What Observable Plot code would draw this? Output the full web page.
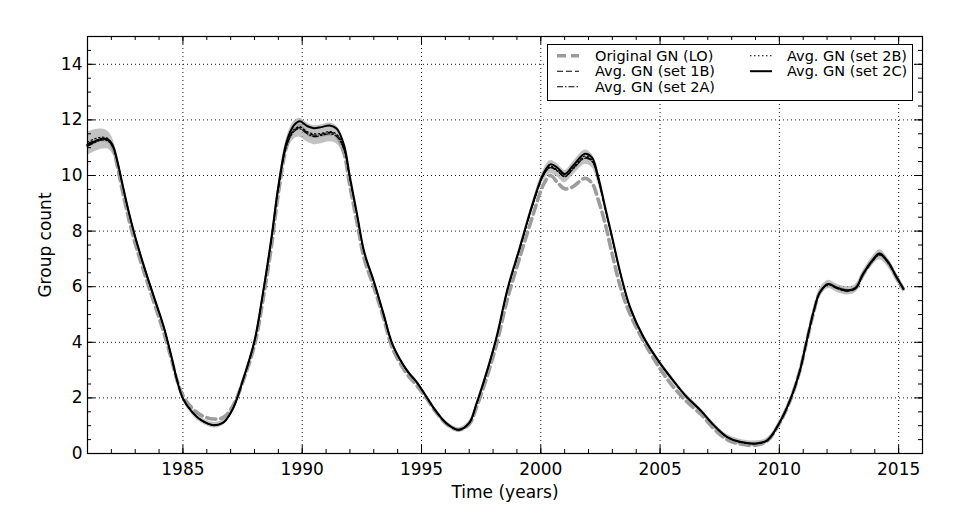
<!DOCTYPE html>
<html><head><meta charset="utf-8">
<script src="https://cdn.jsdelivr.net/npm/d3@7"></script>
<script src="https://cdn.jsdelivr.net/npm/@observablehq/plot@0.6"></script>
<style>
body{margin:0;background:#fff;font-family:"DejaVu Sans",sans-serif;}
#wrap{position:relative;width:957px;height:522px;}
#legend{position:absolute;left:547px;top:44px;width:366px;height:57px;border:1px solid #000;background:#fff;box-sizing:border-box;}
#legend text{font-family:"DejaVu Sans",sans-serif;font-size:14.5px;fill:#000;}
</style></head><body><div id="wrap"></div>
<script>
const years = [
1981.0,1981.3,1981.6,1981.85,1982.05,1982.25,1982.45,1982.7,1983.0,1983.4,
1983.8,1984.2,1984.5,1984.75,1985.0,1985.4,1985.8,1986.3,1986.7,1987.1,
1987.5,1988.0,1988.35,1988.7,1989.0,1989.35,1989.65,1989.9,1990.2,1990.5,
1990.8,1991.15,1991.45,1991.75,1992.0,1992.3,1992.6,1993.0,1993.4,1993.8,
1994.4,1994.8,1995.2,1995.6,1996.05,1996.55,1997.0,1997.3,1997.75,1998.15,
1998.6,1999.1,1999.7,2000.1,2000.4,2000.7,2001.0,2001.35,2001.85,2002.15,
2002.4,2002.7,2003.0,2003.35,2003.75,2004.3,2005.0,2005.55,2006.1,2006.7,
2007.25,2007.8,2008.35,2009.0,2009.5,2010.0,2010.45,2010.85,2011.15,2011.45,
2011.7,2012.05,2012.4,2012.85,2013.2,2013.5,2013.9,2014.2,2014.55,2014.9,
2015.2];

const origLO = [
11.08,11.22,11.30,11.26,11.02,10.35,9.50,8.55,7.55,6.45,
5.40,4.35,3.45,2.65,2.08,1.62,1.36,1.24,1.30,1.72,
2.55,3.90,5.50,7.40,9.35,11.05,11.66,11.78,11.52,11.42,
11.45,11.50,11.40,10.80,9.62,8.30,7.00,6.00,4.90,3.75,
2.85,2.45,2.00,1.50,1.06,0.85,1.05,1.65,2.78,3.95,
5.55,7.00,8.65,9.65,10.00,9.75,9.52,9.60,9.90,9.72,
9.15,8.26,7.15,5.95,5.00,4.05,3.05,2.40,1.88,1.42,
0.90,0.50,0.34,0.30,0.46,1.08,1.90,2.95,4.05,5.13,
5.80,6.08,5.96,5.86,5.95,6.42,6.93,7.17,6.88,6.35,
5.92];

const set1B = [
11.14,11.25,11.31,11.27,11.06,10.50,9.73,8.78,7.78,6.63,
5.58,4.54,3.55,2.65,1.98,1.48,1.18,1.02,1.12,1.62,
2.60,4.04,5.73,7.64,9.52,11.10,11.62,11.72,11.55,11.45,
11.48,11.55,11.45,10.96,9.88,8.57,7.23,6.18,5.04,3.89,
2.97,2.56,2.05,1.53,1.08,0.85,1.10,1.77,2.96,4.18,
5.87,7.31,9.04,9.98,10.30,10.18,9.96,10.25,10.66,10.52,
9.88,8.80,7.71,6.42,5.23,4.19,3.24,2.62,2.04,1.54,
1.01,0.59,0.41,0.35,0.47,1.09,1.91,2.94,4.06,5.14,
5.79,6.08,5.95,5.85,5.94,6.42,6.92,7.15,6.87,6.35,
5.92];

const set2A = [
11.05,11.18,11.27,11.25,11.03,10.48,9.72,8.77,7.77,6.62,
5.58,4.53,3.54,2.64,1.98,1.48,1.18,1.02,1.12,1.61,
2.59,4.03,5.72,7.62,9.50,11.07,11.58,11.68,11.50,11.40,
11.44,11.50,11.40,10.92,9.86,8.56,7.22,6.17,5.03,3.88,
2.96,2.56,2.04,1.53,1.08,0.85,1.09,1.76,2.95,4.17,
5.86,7.30,9.02,9.98,10.28,10.15,9.95,10.22,10.62,10.50,
9.86,8.79,7.70,6.41,5.22,4.18,3.23,2.61,2.04,1.54,
1.01,0.59,0.41,0.35,0.47,1.09,1.91,2.94,4.06,5.14,
5.79,6.07,5.94,5.84,5.93,6.41,6.91,7.14,6.86,6.34,
5.91];

const set2B = [
11.20,11.32,11.38,11.33,11.08,10.51,9.74,8.79,7.79,6.64,
5.59,4.54,3.55,2.65,1.98,1.48,1.18,1.02,1.12,1.62,
2.60,4.04,5.74,7.66,9.55,11.13,11.65,11.75,11.58,11.50,
11.52,11.58,11.48,11.00,9.90,8.58,7.24,6.19,5.04,3.89,
2.97,2.57,2.05,1.53,1.08,0.85,1.10,1.77,2.97,4.19,
5.88,7.33,9.06,10.00,10.33,10.20,9.98,10.28,10.70,10.56,
9.92,8.82,7.73,6.43,5.24,4.19,3.24,2.62,2.04,1.55,
1.02,0.60,0.42,0.36,0.48,1.10,1.92,2.95,4.07,5.15,
5.80,6.09,5.96,5.86,5.95,6.44,6.94,7.18,6.89,6.36,
5.93];

const set2C = [
11.10,11.22,11.32,11.30,11.10,10.52,9.75,8.80,7.80,6.65,
5.60,4.55,3.55,2.65,1.98,1.48,1.18,1.02,1.12,1.62,
2.60,4.05,5.75,7.70,9.62,11.22,11.80,11.95,11.78,11.70,
11.74,11.80,11.68,11.10,9.95,8.60,7.25,6.20,5.05,3.90,
2.98,2.57,2.05,1.53,1.08,0.85,1.10,1.78,2.98,4.20,
5.90,7.35,9.10,10.05,10.40,10.28,10.05,10.35,10.78,10.64,
9.98,8.86,7.75,6.45,5.25,4.20,3.25,2.63,2.05,1.55,
1.02,0.60,0.42,0.36,0.48,1.10,1.92,2.95,4.07,5.15,
5.80,6.10,5.97,5.87,5.96,6.45,6.95,7.19,6.90,6.37,
5.93];

// half-width of the grey uncertainty band (centred on set 1B)
const bandHalf = [
0.42,0.40,0.36,0.32,0.28,0.25,0.22,0.20,0.16,0.15,
0.14,0.13,0.12,0.11,0.10,0.10,0.10,0.10,0.10,0.10,
0.10,0.10,0.12,0.15,0.20,0.26,0.32,0.34,0.34,0.34,
0.34,0.34,0.32,0.24,0.16,0.12,0.12,0.10,0.10,0.10,
0.08,0.08,0.08,0.08,0.08,0.08,0.08,0.08,0.08,0.10,
0.10,0.12,0.15,0.20,0.24,0.24,0.22,0.24,0.26,0.24,
0.18,0.12,0.10,0.10,0.10,0.10,0.10,0.10,0.10,0.10,
0.10,0.10,0.10,0.10,0.10,0.10,0.10,0.10,0.12,0.12,
0.14,0.15,0.15,0.15,0.15,0.15,0.16,0.18,0.16,0.15,
0.15];

const xMajor = [1985, 1990, 1995, 2000, 2005, 2010, 2015];
const xMinor = d3.range(1982, 2016, 1);
const yMajor = [0, 2, 4, 6, 8, 10, 12, 14];
const yMinor = d3.range(0.5, 15, 0.5);

const seriesNames = ["Original GN (LO)", "Avg. GN (set 1B)", "Avg. GN (set 2A)", "Avg. GN (set 2B)", "Avg. GN (set 2C)"];
const seriesValues = [origLO, set1B, set2A, set2B, set2C];
const seriesStyle = [
  {stroke: "#9c9c9c", strokeWidth: 3.6, strokeDasharray: "9,5"},
  {stroke: "#000", strokeWidth: 1.1, strokeDasharray: "6,3"},
  {stroke: "#000", strokeWidth: 1.1, strokeDasharray: "6,2,1.5,2"},
  {stroke: "#000", strokeWidth: 1.1, strokeDasharray: "1.5,2.5"},
  {stroke: "#000", strokeWidth: 2}
];

const band = years.map((t, i) => ({t, lo: set1B[i] - bandHalf[i], hi: set1B[i] + bandHalf[i]}));

const W = 957, H = 522, mL = 87, mR = 35, mT = 36, mB = 69;
const pw = W - mL - mR, ph = H - mT - mB;

const lineMarks = seriesValues.map((vals, k) =>
  Plot.line(years.map((t, i) => ({t, v: vals[i]})), {x: "t", y: "v", curve: "catmull-rom", ...seriesStyle[k]})
);

const chart = Plot.plot({
  width: W, height: H,
  marginLeft: mL, marginRight: mR, marginTop: mT, marginBottom: mB,
  style: {fontFamily: "DejaVu Sans, sans-serif", fontSize: "17px", background: "#fff", color: "#000"},
  x: {domain: [1981, 2016], axis: null},
  y: {domain: [0, 15], axis: null},
  marks: [
    Plot.gridX(xMajor, {stroke: "#000", strokeOpacity: 0.9, strokeDasharray: "1,3"}),
    Plot.gridY(yMajor, {stroke: "#000", strokeOpacity: 0.9, strokeDasharray: "1,3"}),
    Plot.areaY(band, {x: "t", y1: "lo", y2: "hi", curve: "catmull-rom", fill: "#a8a8a8", fillOpacity: 0.7}),
    ...lineMarks,
    // inward ticks on all four sides
    Plot.tickX(xMajor, {x: d => d, insetTop: ph - 8, stroke: "#000"}),
    Plot.tickX(xMajor, {x: d => d, insetBottom: ph - 8, stroke: "#000"}),
    Plot.tickX(xMinor, {x: d => d, insetTop: ph - 4, stroke: "#000"}),
    Plot.tickX(xMinor, {x: d => d, insetBottom: ph - 4, stroke: "#000"}),
    Plot.tickY(yMajor, {y: d => d, insetRight: pw - 8, stroke: "#000"}),
    Plot.tickY(yMajor, {y: d => d, insetLeft: pw - 8, stroke: "#000"}),
    Plot.tickY(yMinor, {y: d => d, insetRight: pw - 4, stroke: "#000"}),
    Plot.tickY(yMinor, {y: d => d, insetLeft: pw - 4, stroke: "#000"}),
    Plot.frame({stroke: "#000", strokeWidth: 1.2}),
    Plot.axisX(xMajor, {tickSize: 0, tickPadding: 9, label: null, fontSize: 17, tickFormat: d => String(d)}),
    Plot.axisY(yMajor, {tickSize: 0, tickPadding: 5, label: null, fontSize: 17, tickFormat: d => String(d)}),
    Plot.text(["Time (years)"], {frameAnchor: "bottom", dy: 39, lineAnchor: "middle", textAnchor: "middle", text: d => d, fontSize: 17}),
    Plot.text(["Group count"], {frameAnchor: "left", dx: -42, rotate: -90, lineAnchor: "middle", textAnchor: "middle", text: d => d, fontSize: 17})
  ]
});

const wrap = document.getElementById("wrap");
wrap.appendChild(chart);

// legend (inside the plot, upper right)
const leg = document.createElement("div");
leg.id = "legend";
const ns = "http://www.w3.org/2000/svg";
const lsvg = document.createElementNS(ns, "svg");
lsvg.setAttribute("width", 364); lsvg.setAttribute("height", 55);
const legPos = [
  {x: 9, tx: 47, y: 10.7}, {x: 9, tx: 47, y: 26.2}, {x: 9, tx: 47, y: 41.7},
  {x: 202, tx: 239, y: 10.7}, {x: 202, tx: 239, y: 26.2}
];
seriesNames.forEach((name, k) => {
  const p = legPos[k], s = seriesStyle[k];
  const ln = document.createElementNS(ns, "line");
  ln.setAttribute("x1", p.x); ln.setAttribute("x2", p.x + 22);
  ln.setAttribute("y1", p.y); ln.setAttribute("y2", p.y);
  ln.setAttribute("stroke", s.stroke); ln.setAttribute("stroke-width", s.strokeWidth);
  if (s.strokeDasharray) ln.setAttribute("stroke-dasharray", s.strokeDasharray);
  lsvg.appendChild(ln);
  const tx = document.createElementNS(ns, "text");
  tx.setAttribute("x", p.tx); tx.setAttribute("y", p.y);
  tx.setAttribute("dy", "0.36em");
  tx.textContent = name;
  lsvg.appendChild(tx);
});
leg.appendChild(lsvg);
wrap.appendChild(leg);
</script>
</body></html>
